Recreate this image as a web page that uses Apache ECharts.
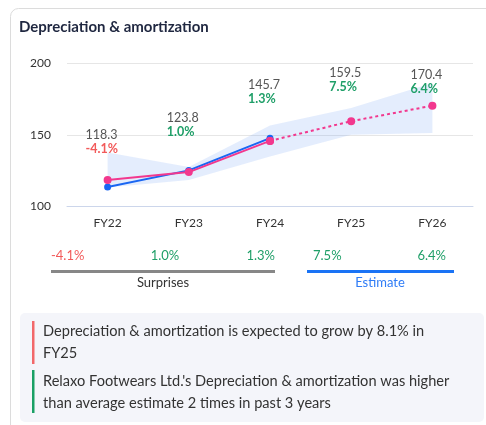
<!DOCTYPE html>
<html>
<head>
<meta charset="utf-8">
<script src="https://cdn.jsdelivr.net/npm/echarts@6/dist/echarts.min.js"></script>
<style>
  html, body { margin: 0; padding: 0; background: #fff; }
  #chart { width: 486px; height: 425px; }
</style>
</head>
<body>
<div id="chart"></div>
<script>
// ---- data ----
const categories = ['FY22', 'FY23', 'FY24', 'FY25', 'FY26'];
const actual = [113.4, 125.0, 147.6, null, null];
const estimate = [118.3, 123.8, 145.7, 159.5, 170.4];
const estimateHigh = [137.5, 127.3, 156.5, 168.8, 186.4];
const estimateLow = [113.0, 118.3, 134.7, 150.0, 151.2];
const changeLabels = ['-4.1%', '1.0%', '1.3%', '7.5%', '6.4%'];
const yTicks = [100, 150, 200];
const lastActualIndex = 2;
const groupNames = ['Surprises', 'Estimate'];
const notes = [
  ['Depreciation & amortization is expected to grow by 8.1% in', 'FY25'],
  ["Relaxo Footwears Ltd.'s Depreciation & amortization was higher", 'than average estimate 2 times in past 3 years']
];

// ---- styling ----
const FONT = 'Lato, "Noto Sans", sans-serif';
const BLUE = '#1a66f2';
const PINK = '#f2388e';
const RED = '#f25a5a';
const GREEN = '#1f9f68';
const labelLift = [20, 29, 31, 23, 6];

const chart = echarts.init(document.getElementById('chart'), null, { renderer: 'canvas' });

function labelFor(i) {
  const neg = changeLabels[i].trim().startsWith('-');
  return {
    show: true,
    position: 'top',
    distance: labelLift[i],
    align: 'left',
    offset: [-22, 0],
    formatter: () => '{v|' + estimate[i].toFixed(1) + '}\n{' + (neg ? 'n' : 'p') + '|' + changeLabels[i] + '}',
    rich: {
      v: { fontFamily: FONT, fontSize: 12.5, color: '#555', lineHeight: 14, align: 'left' },
      p: { fontFamily: FONT, fontSize: 12.5, color: GREEN, fontWeight: 'bold', lineHeight: 14, align: 'left' },
      n: { fontFamily: FONT, fontSize: 12.5, color: RED, fontWeight: 'bold', lineHeight: 14, align: 'left' }
    }
  };
}

function pinkData(from, to, labelFrom, labelTo) {
  return estimate.map((v, i) => {
    if (i < from || i > to) return null;
    const item = { value: v };
    if (i >= labelFrom && i <= labelTo) item.label = labelFor(i);
    return item;
  });
}

// stacked band: lower bound plus spread up to the upper bound
const bandSpread = estimateHigh.map((h, i) => +(h - estimateLow[i]).toFixed(2));

const yMin = yTicks[0], yMax = yTicks[yTicks.length - 1];
const yStep = yTicks[1] - yTicks[0];
const lastIndex = categories.length - 1;

// lower panel: surprise / estimate strip and notes
const stripY = 256;
const graphics = [
  { type: 'rect', shape: { x: 10.5, y: 8.5, width: 520, height: 520, r: 8 },
    style: { fill: 'none', stroke: '#dcdcdc', lineWidth: 1 }, silent: true },
  { type: 'text', x: 19, y: 27, style: { text: 'Depreciation & amortization', font: 'bold 15px ' + FONT,
    fill: '#1f2740', textVerticalAlign: 'middle' } },

  { type: 'text', x: 51, y: stripY, style: { text: changeLabels[0], font: '13px ' + FONT, fill: RED, textVerticalAlign: 'middle', textAlign: 'left' } },
  { type: 'text', x: 165, y: stripY, style: { text: changeLabels[1], font: '13px ' + FONT, fill: GREEN, textVerticalAlign: 'middle', textAlign: 'center' } },
  { type: 'text', x: 275, y: stripY, style: { text: changeLabels[2], font: '13px ' + FONT, fill: GREEN, textVerticalAlign: 'middle', textAlign: 'right' } },
  { type: 'text', x: 313, y: stripY, style: { text: changeLabels[3], font: '13px ' + FONT, fill: GREEN, textVerticalAlign: 'middle', textAlign: 'left' } },
  { type: 'text', x: 446, y: stripY, style: { text: changeLabels[4], font: '13px ' + FONT, fill: GREEN, textVerticalAlign: 'middle', textAlign: 'right' } },

  { type: 'rect', shape: { x: 51, y: 270, width: 224, height: 3 }, style: { fill: '#878787' } },
  { type: 'rect', shape: { x: 307, y: 270, width: 147, height: 3 }, style: { fill: '#1a73f5' } },
  { type: 'text', x: 163, y: 283, style: { text: groupNames[0], font: '13px ' + FONT, fill: '#333', textAlign: 'center', textVerticalAlign: 'middle' } },
  { type: 'text', x: 380, y: 283, style: { text: groupNames[1], font: '13px ' + FONT, fill: '#2f7cf6', textAlign: 'center', textVerticalAlign: 'middle' } },

  { type: 'rect', shape: { x: 20, y: 313, width: 464, height: 109, r: 5 }, style: { fill: '#f4f5fa' } },
  { type: 'rect', shape: { x: 32, y: 321, width: 2.5, height: 43 }, style: { fill: '#f2686a' } },
  { type: 'rect', shape: { x: 32, y: 370, width: 2.5, height: 43 }, style: { fill: '#1aa065' } },
  { type: 'text', x: 43, y: 331.5, style: { text: notes[0][0], font: '14.6px ' + FONT, fill: '#333', textVerticalAlign: 'middle' } },
  { type: 'text', x: 43, y: 353.5, style: { text: notes[0][1], font: '14.6px ' + FONT, fill: '#333', textVerticalAlign: 'middle' } },
  { type: 'text', x: 43, y: 381, style: { text: notes[1][0], font: '14.6px ' + FONT, fill: '#333', textVerticalAlign: 'middle' } },
  { type: 'text', x: 43, y: 403, style: { text: notes[1][1], font: '14.6px ' + FONT, fill: '#333', textVerticalAlign: 'middle' } }
];

chart.setOption({
  animation: false,
  backgroundColor: '#fff',
  textStyle: { fontFamily: FONT },
  grid: { left: 67, right: 13, top: 63.5, bottom: 219 },
  xAxis: {
    type: 'category',
    data: categories,
    boundaryGap: true,
    axisLine: { show: true, lineStyle: { color: '#ccd6eb', width: 1 } },
    axisTick: { show: false },
    axisLabel: { color: '#333', fontSize: 12, fontFamily: FONT, margin: 11 },
    z: 5
  },
  yAxis: {
    type: 'value',
    min: yMin, max: yMax, interval: yStep,
    axisLine: { show: false },
    axisTick: { show: false },
    axisLabel: { color: '#333', fontSize: 12, fontFamily: FONT, margin: 16 },
    splitLine: { lineStyle: { color: '#e6e6e6', width: 1 } }
  },
  series: [
    { name: 'low', type: 'line', stack: 'band', data: estimateLow, symbol: 'none',
      lineStyle: { opacity: 0 }, silent: true, z: 1 },
    { name: 'range', type: 'line', stack: 'band', data: bandSpread, symbol: 'none',
      lineStyle: { opacity: 0 }, areaStyle: { color: 'rgba(90,145,240,0.16)', opacity: 1 }, silent: true, z: 1 },
    { name: 'Actual', type: 'line', data: actual, symbol: 'circle', symbolSize: 7,
      itemStyle: { color: BLUE }, lineStyle: { color: BLUE, width: 2 }, z: 3 },
    { name: 'Estimate', type: 'line', data: pinkData(0, lastActualIndex, 0, lastActualIndex - 1),
      symbol: 'circle', symbolSize: 8,
      itemStyle: { color: PINK }, lineStyle: { color: PINK, width: 2 }, z: 4 },
    { name: 'Forecast', type: 'line', data: pinkData(lastActualIndex, lastIndex, lastActualIndex, lastIndex),
      symbol: 'circle', symbolSize: 8,
      itemStyle: { color: PINK }, lineStyle: { color: PINK, width: 2, type: [3, 3] }, z: 4 }
  ],
  graphic: graphics
});
</script>
</body>
</html>
